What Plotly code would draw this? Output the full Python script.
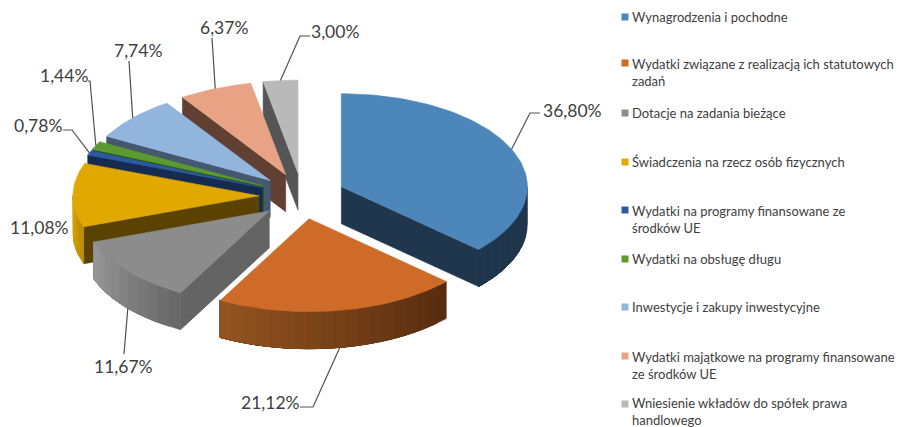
import math
import plotly.graph_objects as go

# ---- data ----
categories = ["Wynagrodzenia i pochodne",
              "Wydatki związane z realizacją ich statutowych<br>zadań",
              "Dotacje na zadania bieżące",
              "Świadczenia na rzecz osób fizycznych",
              "Wydatki na programy finansowane ze<br>środków UE",
              "Wydatki na obsługę długu",
              "Inwestycje i zakupy inwestycyjne",
              "Wydatki majątkowe na programy finansowane<br>ze środków UE",
              "Wniesienie wkładów do spółek prawa<br>handlowego"]
values = [36.80, 21.12, 11.67, 11.08, 0.78, 1.44, 7.74, 6.37, 3.00]

# ---- styles ----
top_colors = ["#4C86BB", "#CE6B28", "#8C8C8C", "#E0A800", "#2C5AA0", "#5A9A30", "#92B5DD", "#E8A384", "#B9B9B9"]
radial_colors = ["#1F364D", "#5A2C10", "#646464", "#5A4300", "#152C50", "#2E4E1A", "#45586F", "#623F33", "#555555"]
arc_from = ["#1F364D", "#562B0F", "#666666", "#B98C00", "#152C50", "#2E4E1A", "#45586F", "#623F33", "#555555"]
arc_to = ["#1F364D", "#945420", "#999999", "#DCA60A", "#152C50", "#2E4E1A", "#45586F", "#623F33", "#555555"]
legend_ys = [17, 63, 113, 162, 210, 259, 307, 356, 404]
legend_text_ys = [17, 72, 113, 162, 219, 259, 307, 365, 411]
label_pos = [(572, 110), (270, 402), (123, 366), (39, 227), (38, 125), (64, 75), (138, 50), (224, 27), (335, 31)]
leader_elbow = [[(530, 113), (540, 113)], [(313, 407), (300, 407)], [(124, 354)], None,
                [(72, 130), (63, 130)], [(90, 81), (88, 81)], [(129, 61)], [(212, 38)], [(300, 36), (310, 36)]]
draw_order = [8, 7, 6, 5, 4, 3, 2, 1, 0]

CX, CY, RX, RY, EX, EY, DEPTH = 302, 196, 186, 93, 43, 23, 37


def hex2rgb(h):
    return tuple(int(h[i:i + 2], 16) for i in (1, 3, 5))


def lerp(a, b, f):
    ca, cb = hex2rgb(a), hex2rgb(b)
    return "rgb(%d,%d,%d)" % tuple(round(x + (y - x) * f) for x, y in zip(ca, cb))


total = sum(values)
starts, ends, t = [], [], 0.0
for v in values:
    starts.append(t)
    t += v / total * 360
    ends.append(t)


def apex(i):
    m = math.radians((starts[i] + ends[i]) / 2)
    return CX + EX * math.sin(m), CY - EY * math.cos(m)


def rim(i, deg):
    a = apex(i)
    r = math.radians(deg)
    return a[0] + RX * math.sin(r), a[1] - RY * math.cos(r)


fig = go.Figure()


def poly(xs, ys, color, name):
    fig.add_trace(go.Scatter(x=xs, y=ys, mode="lines", fill="toself", fillcolor=color,
                             line=dict(color=color, width=0.6), name=name,
                             hoverinfo="skip", showlegend=False))


for i in draw_order:
    a, b = starts[i], ends[i]
    ax, ay = apex(i)
    name = categories[i].replace("<br>", " ")
    # radial walls facing the viewer
    for deg, vis in ((a, math.sin(math.radians(a)) < -1e-6), (b, math.sin(math.radians(b)) > 1e-6)):
        if vis:
            x, y = rim(i, deg)
            poly([ax, x, x, ax, ax], [ay, y, y + DEPTH, ay + DEPTH, ay], radial_colors[i], name)
    # outer wall, in shaded strips (each runs on to the far end, so no seams show)
    lo, hi = max(a, 90), min(b, 270)
    if hi > lo:
        n = max(2, int((hi - lo) / 4))
        for k in range(n):
            d0 = lo + (hi - lo) * k / n
            m = 12
            ds = [d0 + (hi - d0) * q / m for q in range(m + 1)]
            pts = [rim(i, d) for d in ds]
            xs = [p[0] for p in pts] + [p[0] for p in reversed(pts)]
            ys = [p[1] for p in pts] + [p[1] + DEPTH for p in reversed(pts)]
            poly(xs + xs[:1], ys + ys[:1], lerp(arc_from[i], arc_to[i], (k + 0.5) / n), name)
    # top surface
    n = max(4, int((b - a) / 1.5))
    pts = [rim(i, a + (b - a) * k / n) for k in range(n + 1)]
    poly([ax] + [p[0] for p in pts] + [ax], [ay] + [p[1] for p in pts] + [ay], top_colors[i], name)

# leader lines
for i, elbow in enumerate(leader_elbow):
    if not elbow:
        continue
    mid = (starts[i] + ends[i]) / 2
    x, y = rim(i, mid)
    if 90 < mid < 270:
        y += DEPTH
    fig.add_trace(go.Scatter(x=[x] + [p[0] for p in elbow], y=[y] + [p[1] for p in elbow], mode="lines",
                             line=dict(color="#505050", width=1.2), hoverinfo="skip", showlegend=False))

# legend keys
fig.add_trace(go.Scatter(x=[625] * len(values), y=legend_ys, mode="markers",
                         marker=dict(symbol="square", size=7, color=top_colors),
                         hoverinfo="skip", showlegend=False))

ann = []
for v, (x, y) in zip(values, label_pos):
    ann.append(dict(x=x, y=y, text=f"{v:.2f}".replace(".", ",") + "%", showarrow=False,
                    xanchor="center", yanchor="middle",
                    font=dict(family="Lato", size=17.5, color="#404040")))
for c, y in zip(categories, legend_text_ys):
    ann.append(dict(x=630, y=y, text=c, showarrow=False, xanchor="left", yanchor="middle", align="left",
                    font=dict(family="Lato", size=13, color="#404040")))

fig.update_layout(width=900, height=427, margin=dict(l=0, r=0, t=0, b=0),
                  paper_bgcolor="white", plot_bgcolor="white", showlegend=False, annotations=ann,
                  xaxis=dict(range=[0, 900], visible=False, fixedrange=True),
                  yaxis=dict(range=[427, 0], visible=False, fixedrange=True))
fig.write_html("out.html", config=dict(displayModeBar=False),
               post_script="document.body.style.margin='0';document.documentElement.style.overflow='hidden';")
